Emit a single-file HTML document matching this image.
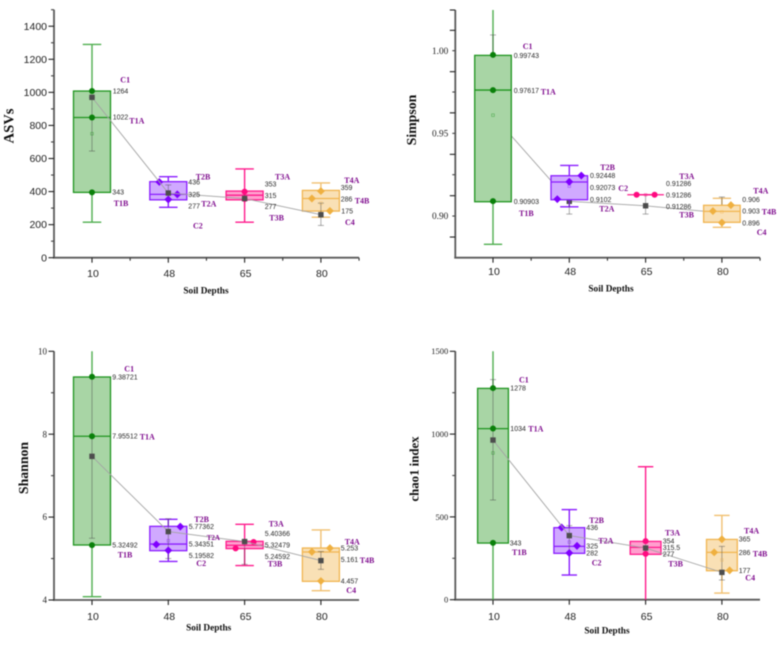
<!DOCTYPE html>
<html lang="en">
<head>
<meta charset="utf-8">
<title>Soil depth diversity box plots</title>
<style>
html,body{margin:0;padding:0;background:#fff;}
body{width:781px;height:645px;overflow:hidden;}
svg{display:block;filter:blur(0.4px);}
.val{font-family:"Liberation Sans",sans-serif;font-size:7px;fill:#2a2a2a;}
.tag{font-family:"Liberation Serif",serif;font-size:8px;font-weight:bold;fill:#800f8f;}
.tick-sans{font-family:"Liberation Sans",sans-serif;fill:#222;}
.tick-serif{font-family:"Liberation Serif",serif;fill:#222;}
.title{font-family:"Liberation Serif",serif;font-weight:bold;fill:#111;}
</style>
</head>
<body>
<svg id="chart" xmlns="http://www.w3.org/2000/svg" width="781" height="645" viewBox="0 0 781 645">
<rect x="0" y="0" width="781" height="645" fill="#fff"/>
<g id="notes">
<text class="title" font-size="14.6" text-anchor="middle" transform="translate(13.5,126) rotate(-90)">ASVs</text>
<text class="title" font-size="13.8" text-anchor="middle" transform="translate(416,120) rotate(-90)">Simpson</text>
<text class="title" font-size="13.8" text-anchor="middle" transform="translate(28,468) rotate(-90)">Shannon</text>
<text class="title" font-size="12.8" text-anchor="middle" transform="translate(418.5,469) rotate(-90)">chao1 index</text>
<text class="title" font-size="9.3" text-anchor="middle" x="206" y="293.7">Soil Depths</text>
<text class="title" font-size="9.3" text-anchor="middle" x="611" y="291.7">Soil Depths</text>
<text class="title" font-size="9.3" text-anchor="middle" x="208.7" y="630.7">Soil Depths</text>
<text class="title" font-size="9.3" text-anchor="middle" x="607" y="633.3">Soil Depths</text>

<g>
<text class="val" x="112.7" y="93.4">1264</text>
<text class="val" x="112.7" y="119.7">1022</text>
<text class="val" x="112.3" y="194.7">343</text>
<text class="val" x="188.3" y="184.7">436</text>
<text class="val" x="188.3" y="197.1">325</text>
<text class="val" x="188.3" y="208.4">277</text>
<text class="val" x="264.7" y="186.4">353</text>
<text class="val" x="264.7" y="198.1">315</text>
<text class="val" x="264.7" y="209.1">277</text>
<text class="val" x="340.7" y="190.1">359</text>
<text class="val" x="340.7" y="201.4">286</text>
<text class="val" x="341.3" y="213.4">175</text>
</g>
<g>
<text class="tag" x="120.3" y="82.6">C1</text>
<text class="tag" x="129.3" y="123.3">T1A</text>
<text class="tag" x="113.7" y="205.9">T1B</text>
<text class="tag" x="195.7" y="179.3">T2B</text>
<text class="tag" x="201.3" y="206.3">T2A</text>
<text class="tag" x="193" y="228.6">C2</text>
<text class="tag" x="275" y="179.3">T3A</text>
<text class="tag" x="269.3" y="220.6">T3B</text>
<text class="tag" x="344.3" y="182.9">T4A</text>
<text class="tag" x="354.7" y="203.6">T4B</text>
<text class="tag" x="345" y="224.9">C4</text>
</g>

<g>
<text class="val" x="513.7" y="58.1">0.99743</text>
<text class="val" x="513.7" y="93.1">0.97617</text>
<text class="val" x="513.7" y="204.1">0.90903</text>
<text class="val" x="590" y="178.1">0.92448</text>
<text class="val" x="590" y="190.1">0.92073</text>
<text class="val" x="590" y="202.1">0.9102</text>
<text class="val" x="666" y="186.1">0.91286</text>
<text class="val" x="666" y="197.4">0.91286</text>
<text class="val" x="666" y="209.1">0.91286</text>
<text class="val" x="742.3" y="202.1">0.906</text>
<text class="val" x="742.3" y="213.7">0.903</text>
<text class="val" x="742.3" y="225.4">0.896</text>
</g>
<g>
<text class="tag" x="522.7" y="48.9">C1</text>
<text class="tag" x="540.7" y="94.6">T1A</text>
<text class="tag" x="519" y="215.9">T1B</text>
<text class="tag" x="600.3" y="169.9">T2B</text>
<text class="tag" x="618.3" y="190.9">C2</text>
<text class="tag" x="599.3" y="211.6">T2A</text>
<text class="tag" x="679.3" y="178.9">T3A</text>
<text class="tag" x="679.3" y="217.3">T3B</text>
<text class="tag" x="753.3" y="193.6">T4A</text>
<text class="tag" x="761.7" y="214.6">T4B</text>
<text class="tag" x="756.7" y="234.9">C4</text>
</g>

<g>
<text class="val" x="112.3" y="379.4">9.38721</text>
<text class="val" x="112.3" y="438.7">7.95512</text>
<text class="val" x="112.3" y="547.4">5.32492</text>
<text class="val" x="188.7" y="529.1">5.77362</text>
<text class="val" x="188.7" y="546.4">5.34351</text>
<text class="val" x="188.7" y="558.1">5.19582</text>
<text class="val" x="264.7" y="536.1">5.40366</text>
<text class="val" x="264.7" y="547.4">5.32479</text>
<text class="val" x="264.7" y="559.1">5.24592</text>
<text class="val" x="340.7" y="550.4">5.253</text>
<text class="val" x="340.7" y="562.1">5.161</text>
<text class="val" x="340.7" y="583.4">4.457</text>
</g>
<g>
<text class="tag" x="124.3" y="371.6">C1</text>
<text class="tag" x="139.7" y="439.6">T1A</text>
<text class="tag" x="117.7" y="557.6">T1B</text>
<text class="tag" x="194.3" y="521.9">T2B</text>
<text class="tag" x="206.7" y="540.1" style="font-size:7px">T2A</text>
<text class="tag" x="196.3" y="565.9">C2</text>
<text class="tag" x="268.7" y="526.6">T3A</text>
<text class="tag" x="267.7" y="566.3">T3B</text>
<text class="tag" x="344.7" y="544.3">T4A</text>
<text class="tag" x="359.7" y="562.9">T4B</text>
<text class="tag" x="346.3" y="592.9">C4</text>
</g>

<g>
<text class="val" x="510.3" y="390.7">1278</text>
<text class="val" x="510.3" y="431.1">1034</text>
<text class="val" x="509.7" y="545.4">343</text>
<text class="val" x="586.3" y="530.1">436</text>
<text class="val" x="586.3" y="548.7">325</text>
<text class="val" x="586.3" y="555.7">282</text>
<text class="val" x="662.7" y="543.7">354</text>
<text class="val" x="662.7" y="550.1">315.5</text>
<text class="val" x="662.7" y="556.7">277</text>
<text class="val" x="738.7" y="541.7">365</text>
<text class="val" x="738.7" y="555.1">286</text>
<text class="val" x="738.7" y="573.1">177</text>
</g>
<g>
<text class="tag" x="519" y="382.3">C1</text>
<text class="tag" x="528.3" y="431.3">T1A</text>
<text class="tag" x="512" y="554.9">T1B</text>
<text class="tag" x="589.3" y="522.9">T2B</text>
<text class="tag" x="598.3" y="543.6">T2A</text>
<text class="tag" x="591.7" y="565.3">C2</text>
<text class="tag" x="665" y="535.3">T3A</text>
<text class="tag" x="668.3" y="566.3">T3B</text>
<text class="tag" x="744" y="533.3">T4A</text>
<text class="tag" x="752.7" y="556.3">T4B</text>
<text class="tag" x="745.3" y="580.6">C4</text>
</g>
</g>
</svg>
<script>
// Shared categories
const categories = ['10', '48', '65', '80'];

// ASVs
const asvQ1 = [395, 350, 350, 282];
const asvMedian = [848, 383, 378, 358];
const asvQ3 = [1008, 460, 403, 407];
const asvWhiskerLow = [215, 305, 215, 245];
const asvWhiskerHigh = [1290, 490, 537, 452];
const asvMean = [970, 391, 358, 260];
const asvMedianMark = [750, 392, 375, 330];
const asvErrLow = [645, 355, 345, 195];
const asvErrHigh = [970, 440, 400, 330];
const asvPointLeft = [null, 458, null, 358];
const asvPointCentre = [848, 352, 400, 403];
const asvPointRight = [null, 383, null, 283];
const asvPointExtra = [[1008, 395], [], [355], []];
const asvTickMajor = [0, 200, 400, 600, 800, 1000, 1200, 1400];
const asvTickMinor = [100, 300, 500, 700, 900, 1100, 1300, 1500];
const asvTickLabels = ['0', '200', '400', '600', '800', '1000', '1200', '1400'];

// Simpson
const simpsonQ1 = [0.90865, 0.90986, 0.91286, 0.8962];
const simpsonMedian = [0.97617, 0.92056, 0.91286, 0.9028];
const simpsonQ3 = [0.99716, 0.92437, 0.91286, 0.9065];
const simpsonWhiskerLow = [0.8829, 0.9056, 0.91286, 0.8932];
const simpsonWhiskerHigh = [1.0246, 0.9306, 0.91286, 0.9107];
const simpsonMean = [0.961, 0.9089, 0.9062, 0.9019];
const simpsonMedianMark = [0.961, 0.9181, 0.9128, 0.9025];
const simpsonErrLow = [0.92, 0.9012, 0.9012, 0.8985];
const simpsonErrHigh = [1.0095, 0.92, 0.913, 0.9115];
const simpsonPointLeft = [null, 0.9102, 0.91286, 0.903];
const simpsonPointCentre = [0.97617, 0.92073, null, 0.896];
const simpsonPointRight = [null, 0.92448, 0.91286, 0.9066];
const simpsonPointExtra = [[0.99743, 0.90903], [], [], []];
const simpsonTickMajor = [0.8873, 0.9123, 0.9373, 0.9624, 0.9873, 1.0123, 1.0246];
const simpsonTickMinor = [0.9, 0.925, 0.95, 0.975, 1.0];
const simpsonTickLabels = ['0.90', '0.95', '1.00'];

// Shannon
const shannonQ1 = [5.327, 5.19, 5.24, 4.45];
const shannonMedian = [7.95, 5.35, 5.32, 5.158];
const shannonQ3 = [9.38, 5.777, 5.415, 5.254];
const shannonWhiskerLow = [4.08, 4.93, 4.83, 4.225];
const shannonWhiskerHigh = [10, 5.946, 5.825, 5.69];
const shannonMean = [7.466, 5.65, 5.41, 4.95];
const shannonMedianMark = [7.466, 5.43, 5.34, 4.95];
const shannonErrLow = [5.49, 5.0, 4.86, 4.74];
const shannonErrHigh = [9.38, 5.96, 5.45, 5.17];
const shannonPointLeft = [null, 5.34, 5.246, 5.161];
const shannonPointCentre = [7.95, 5.196, null, 4.457];
const shannonPointRight = [null, 5.77, 5.40, 5.253];
const shannonPointExtra = [[9.387, 5.325], [], [], []];
const shannonTickMajor = [4, 6, 8, 10];
const shannonTickMinor = [5, 7, 9];
const shannonTickLabels = ['4', '6', '8', '10'];

// chao1 index
const chaoQ1 = [342, 280, 274, 175];
const chaoMedian = [1033, 322, 316, 286];
const chaoQ3 = [1276, 435, 352, 364];
const chaoWhiskerLow = [0, 149, 0, 40];
const chaoWhiskerHigh = [1500, 544, 803, 509];
const chaoMean = [964, 387, 312, 165];
const chaoMedianMark = [886, 348, 315, 240];
const chaoErrLow = [602, 282, 280, 119];
const chaoErrHigh = [1329, 447, 350, 322];
const chaoPointLeft = [null, 436, null, 286];
const chaoPointCentre = [1034, 282, 354, 365];
const chaoPointRight = [null, 325, null, 177];
const chaoPointExtra = [[1278, 343], [], [277], []];
const chaoTickMajor = [0, 500, 1000, 1500];
const chaoTickMinor = [250, 750, 1250];
const chaoTickLabels = ['0', '500', '1000', '1500'];

const SVGNS = 'http://www.w3.org/2000/svg';
const palette = [
  {name: 'green', stroke: '#1f951f', whisker: '#4fae4f', fill: '#a8d5a5', dot: '#0a800a', shape: 'circle'},
  {name: 'purple', stroke: '#8a1cff', whisker: '#8a1cff', fill: '#d0a9ff', dot: '#8000ff', shape: 'diamond'},
  {name: 'pink', stroke: '#ff1a8c', whisker: '#ff1a8c', fill: '#ff9fce', dot: '#ff0a80', shape: 'circle'},
  {name: 'orange', stroke: '#f1b550', whisker: '#f1c070', fill: '#f9e0b5', dot: '#efb040', shape: 'diamond'}
];

function make(parent, tag, attrs, name) {
  const el = document.createElementNS(SVGNS, tag);
  for (const k in attrs) el.setAttribute(k, attrs[k]);
  
  
  parent.appendChild(el);
  return el;
}
function seg(parent, x1, y1, x2, y2, stroke, width, name) {
  return make(parent, 'line', {x1: x1, y1: y1, x2: x2, y2: y2, stroke: stroke, 'stroke-width': width}, name);
}

function drawPanel(p) {
  const svg = document.getElementById('chart');
  const notes = document.getElementById('notes');
  const g = document.createElementNS(SVGNS, 'g');
  
  
  svg.insertBefore(g, notes);

  const yScale = v => p.bottom - (v - p.yMin) * (p.bottom - p.top) / (p.yMax - p.yMin);
  const xScale = i => p.xStart + i * p.xStep;

  // Axes
  seg(g, p.left, p.top, p.left, p.bottom + 0.8, '#5a5a5a', 1.8, p.id + '-y-axis-line');
  seg(g, p.left - 1, p.bottom, p.right, p.bottom, '#5a5a5a', 1.8, p.id + '-x-axis-line');
  p.tickMajor.forEach(v => seg(g, p.left - 5.5, yScale(v), p.left, yScale(v), '#222', 1.1, p.id + '-y-major-tick'));
  p.tickMinor.forEach(v => seg(g, p.left - 3, yScale(v), p.left, yScale(v), '#444', 1.1, p.id + '-y-minor-tick'));
  p.tickLabels.forEach(label => {
    const t = make(g, 'text', {x: p.left - 7, y: yScale(Number(label)) + p.tickFont * 0.34, 'text-anchor': 'end', 'font-size': p.tickFont, class: p.tickClass}, p.id + '-y-tick-label');
    t.textContent = label;
  });
  categories.forEach((c, i) => {
    seg(g, xScale(i), p.bottom, xScale(i), p.bottom + 5, '#222', 1.1, p.id + '-x-major-tick');
    if (p.xMinor) seg(g, xScale(i + 0.5), p.bottom, xScale(i + 0.5), p.bottom + 3, '#333', 1.1, p.id + '-x-minor-tick');
    const t = make(g, 'text', {x: xScale(i) + 1, y: p.xLabelY, 'text-anchor': 'middle', 'font-size': 10.5, class: 'tick-sans'}, p.id + '-x-tick-label');
    t.textContent = c;
  });

  const drawTrend = () => {
    const pts = categories.map((c, i) => xScale(i) + ',' + yScale(p.mean[i])).join(' ');
    make(g, 'polyline', {points: pts, fill: 'none', stroke: '#a4a4a4', 'stroke-width': 0.9}, p.id + '-mean-trend-line');
    categories.forEach((c, i) => {
      make(g, 'rect', {x: xScale(i) - 2.7, y: yScale(p.mean[i]) - 2.7, width: 5.4, height: 5.4, fill: '#4d4d4d'}, p.id + '-mean-marker-' + c);
    });
  };
  if (p.trendUnder) drawTrend();

  categories.forEach((c, i) => {
    const col = palette[i];
    const cg = document.createElementNS(SVGNS, 'g');
    
    
    g.appendChild(cg);
    const x = xScale(i);
    const yHigh = yScale(p.whiskerHigh[i]);
    const yLow = yScale(p.whiskerLow[i]);
    const drawError = () => {
      const e1 = yScale(p.errLow[i]);
      const e2 = yScale(p.errHigh[i]);
      seg(cg, x, e1, x, e2, 'rgba(70,70,70,0.45)', 1, 'error-bar');
      seg(cg, x - 3, e1, x + 3, e1, 'rgba(70,70,70,0.45)', 1, 'error-cap-low');
      seg(cg, x - 3, e2, x + 3, e2, 'rgba(70,70,70,0.45)', 1, 'error-cap-high');
    };
    seg(cg, x, yLow, x, yHigh, col.whisker, 1.4, 'whisker');
    if (p.whiskerHigh[i] < p.yMax) seg(cg, x - p.boxHalf / 2, yHigh, x + p.boxHalf / 2, yHigh, col.whisker, 1.4, 'whisker-cap-high');
    if (p.whiskerLow[i] > p.yMin) seg(cg, x - p.boxHalf / 2, yLow, x + p.boxHalf / 2, yLow, col.whisker, 1.4, 'whisker-cap-low');
    if (p.trendUnder) drawError();
    const top = yScale(p.q3[i]);
    const bot = yScale(p.q1[i]);
    make(cg, 'rect', {x: x - p.boxHalf, y: top, width: p.boxHalf * 2, height: Math.max(bot - top, 0), fill: col.fill, stroke: col.stroke, 'stroke-width': bot - top > 0.2 ? 1.3 : 0}, 'interquartile-box');
    seg(cg, x - p.boxHalf, yScale(p.median[i]), x + p.boxHalf, yScale(p.median[i]), col.stroke, 1.3, 'median-line');
    if (!p.trendUnder) drawError();
    make(cg, 'rect', {x: x - 1.3, y: yScale(p.medianMark[i]) - 1.3, width: 2.6, height: 2.6, fill: 'none', stroke: col.stroke, 'stroke-width': 0.6, opacity: 0.6}, 'small-mean-marker');
    // sample points
    const dot = (px, v) => {
      const py = yScale(v);
      if (col.shape === 'circle') {
        make(cg, 'circle', {cx: px, cy: py, r: 3, fill: col.dot}, 'sample-point');
      } else {
        make(cg, 'rect', {x: px - 2.8, y: py - 2.8, width: 5.6, height: 5.6, fill: col.dot, transform: 'rotate(45 ' + px + ' ' + py + ')'}, 'sample-point');
      }
    };
    const step = p.jitter[i];
    if (p.pointLeft[i] !== null) dot(x - step, p.pointLeft[i]);
    if (p.pointCentre[i] !== null) dot(x, p.pointCentre[i]);
    if (p.pointRight[i] !== null) dot(x + step, p.pointRight[i]);
    p.pointExtra[i].forEach(v => dot(x, v));
  });

  if (!p.trendUnder) drawTrend();
}

drawPanel({id: 'asvs', left: 54, right: 359, top: 9.7, bottom: 257.7, yMin: 0, yMax: 1500,
  xStart: 92, xStep: 76.3, xLabelY: 277, boxHalf: 18.5, jitter: [0, 9, 0, 9], xMinor: true, trendUnder: false,
  tickFont: 10.5, tickClass: 'tick-sans',
  q1: asvQ1, median: asvMedian, q3: asvQ3, whiskerLow: asvWhiskerLow, whiskerHigh: asvWhiskerHigh,
  mean: asvMean, medianMark: asvMedianMark, errLow: asvErrLow, errHigh: asvErrHigh,
  pointLeft: asvPointLeft, pointCentre: asvPointCentre, pointRight: asvPointRight, pointExtra: asvPointExtra,
  tickMajor: asvTickMajor, tickMinor: asvTickMinor, tickLabels: asvTickLabels});

drawPanel({id: 'simpson', left: 455.3, right: 760, top: 10, bottom: 257.7, yMin: 0.8748, yMax: 1.0246,
  xStart: 493, xStep: 76.3, xLabelY: 275, boxHalf: 18.3, jitter: [0, 12, 9, 9], xMinor: true, trendUnder: true,
  tickFont: 9.3, tickClass: 'tick-serif',
  q1: simpsonQ1, median: simpsonMedian, q3: simpsonQ3, whiskerLow: simpsonWhiskerLow, whiskerHigh: simpsonWhiskerHigh,
  mean: simpsonMean, medianMark: simpsonMedianMark, errLow: simpsonErrLow, errHigh: simpsonErrHigh,
  pointLeft: simpsonPointLeft, pointCentre: simpsonPointCentre, pointRight: simpsonPointRight, pointExtra: simpsonPointExtra,
  tickMajor: simpsonTickMajor, tickMinor: simpsonTickMinor, tickLabels: simpsonTickLabels});

drawPanel({id: 'shannon', left: 54, right: 359, top: 351.3, bottom: 600, yMin: 4, yMax: 10,
  xStart: 92, xStep: 76.3, xLabelY: 620, boxHalf: 18.5, jitter: [0, 12, 9, 9], xMinor: false, trendUnder: false,
  tickFont: 9, tickClass: 'tick-serif',
  q1: shannonQ1, median: shannonMedian, q3: shannonQ3, whiskerLow: shannonWhiskerLow, whiskerHigh: shannonWhiskerHigh,
  mean: shannonMean, medianMark: shannonMedianMark, errLow: shannonErrLow, errHigh: shannonErrHigh,
  pointLeft: shannonPointLeft, pointCentre: shannonPointCentre, pointRight: shannonPointRight, pointExtra: shannonPointExtra,
  tickMajor: shannonTickMajor, tickMinor: shannonTickMinor, tickLabels: shannonTickLabels});

drawPanel({id: 'chao1', left: 455.3, right: 760, top: 351.3, bottom: 599.7, yMin: 0, yMax: 1500,
  xStart: 493, xStep: 76.3, xLabelY: 620, boxHalf: 15.4, jitter: [0, 7.7, 0, 7.7], xMinor: false, trendUnder: false,
  tickFont: 8.5, tickClass: 'tick-serif',
  q1: chaoQ1, median: chaoMedian, q3: chaoQ3, whiskerLow: chaoWhiskerLow, whiskerHigh: chaoWhiskerHigh,
  mean: chaoMean, medianMark: chaoMedianMark, errLow: chaoErrLow, errHigh: chaoErrHigh,
  pointLeft: chaoPointLeft, pointCentre: chaoPointCentre, pointRight: chaoPointRight, pointExtra: chaoPointExtra,
  tickMajor: chaoTickMajor, tickMinor: chaoTickMinor, tickLabels: chaoTickLabels});
</script>
</body>
</html>
